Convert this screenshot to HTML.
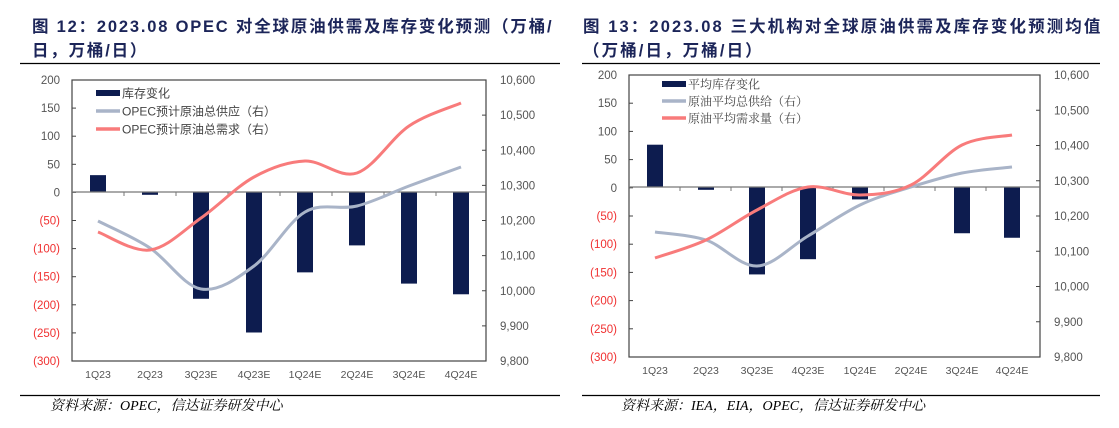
<!DOCTYPE html>
<html><head><meta charset="utf-8"><style>
body{margin:0;width:1119px;height:428px;background:#fff;overflow:hidden;font-family:"Liberation Sans","Noto Sans CJK SC",sans-serif}
svg{position:absolute;left:0;top:0}
</style></head><body>
<svg id="s" width="1119" height="428" xmlns="http://www.w3.org/2000/svg">
<g font-family="Liberation Sans, Noto Sans CJK SC, sans-serif" font-weight="bold" font-size="16.5" fill="#1c2559">
<text x="32" y="32" letter-spacing="1.8">图 12：2023.08 OPEC 对全球原油供需及库存变化预测（万桶/</text>
<text x="32" y="56" letter-spacing="1.8">日，万桶/日）</text>
<text x="583" y="32" letter-spacing="2.1">图 13：2023.08 三大机构对全球原油供需及库存变化预测均值</text>
<text x="583" y="56" letter-spacing="2.1">（万桶/日，万桶/日）</text>
</g>
<line x1="20" y1="63.5" x2="560" y2="63.5" stroke="#000" stroke-width="1.2"/>
<line x1="582" y1="63.5" x2="1100" y2="63.5" stroke="#000" stroke-width="1.2"/>
<line x1="20" y1="395.5" x2="560" y2="395.5" stroke="#000" stroke-width="1.2"/>
<line x1="582" y1="395.5" x2="1100" y2="395.5" stroke="#000" stroke-width="1.2"/>
<g font-family="Liberation Serif, Noto Serif CJK SC, serif" font-style="italic" font-size="14" fill="#000">
<text x="50" y="410">资料来源：OPEC，信达证券研发中心</text>
<text x="621" y="410">资料来源：IEA，EIA，OPEC，信达证券研发中心</text>
</g>
</svg>
<script>
const s=document.getElementById('s');const NS='http://www.w3.org/2000/svg';
function el(t,a,txt){const e=document.createElementNS(NS,t);for(const k in a)e.setAttribute(k,a[k]);if(txt!==undefined)e.textContent=txt;s.appendChild(e);return e;}
function path(p){let d='M'+p[0][0]+','+p[0][1];for(let i=0;i<p.length-1;i++){const p0=p[i-1]||p[i],p1=p[i],p2=p[i+1],p3=p[i+2]||p2;const t=6;d+=' C'+(p1[0]+(p2[0]-p0[0])/t)+','+(p1[1]+(p2[1]-p0[1])/t)+' '+(p2[0]-(p3[0]-p1[0])/t)+','+(p2[1]-(p3[1]-p1[1])/t)+' '+p2[0]+','+p2[1];}return d;}
function chart(c){
 const {L,R,T,B,zero,xs,bars,gray,red,cats,leg,lx,ly,ls}=c;
 const u=(B-T)/500;
 el('rect',{x:L,y:T,width:R-L,height:B-T,fill:'none',stroke:'#444','stroke-width':1.2});
 for(let v=200;v>=-300;v-=50){const y=T+(200-v)*u;el('line',{x1:L,y1:y,x2:L+4,y2:y,stroke:'#444'});
  el('text',{x:L-12,y:y+4,'text-anchor':'end','font-size':11.5,fill:v<0?'#f03030':'#555'},v<0?'('+(-v)+')':String(v));}
 const ru=(B-T)/800;
 for(let v=10600;v>=9800;v-=100){const y=T+(10600-v)*ru;el('line',{x1:R-4,y1:y,x2:R,y2:y,stroke:'#444'});
  el('text',{x:R+14,y:y+4,'font-size':11.5,fill:'#555'},v.toLocaleString('en-US'));}
 bars.forEach((b,i)=>{const y=zero-b*u;el('rect',{x:xs[i]-8,y:Math.min(y,zero),width:16,height:Math.abs(zero-y),fill:'#0d1c4f'});});
 el('line',{x1:L,y1:zero,x2:R,y2:zero,stroke:'#777','stroke-width':1.2});
 for(let i=0;i<=8;i++){const x=xs[0]-26+i*(xs[1]-xs[0]);if(i>0&&i<8)el('line',{x1:x,y1:zero,x2:x,y2:zero+4,stroke:'#777'});}
 el('path',{d:path(gray.map((y,i)=>[xs[i],y])),fill:'none',stroke:'#a9b4c8','stroke-width':3});
 el('path',{d:path(red.map((y,i)=>[xs[i],y])),fill:'none',stroke:'#f87b7b','stroke-width':3});
 cats.forEach((t,i)=>el('text',{x:xs[i],y:B+17,'text-anchor':'middle','font-size':10.5,fill:'#555'},t));
 const cols=['#0d1c4f','#a9b4c8','#f87b7b'];
 leg.forEach((t,i)=>{const y=ly+i*ls;el('line',{x1:lx,y1:y,x2:lx+24,y2:y,stroke:cols[i],'stroke-width':i==0?6:3.5});
  el('text',{x:lx+26,y:y+4.5,'font-size':12,fill:'#444','font-family':c.ff},t);});
}
const cats=['1Q23','2Q23','3Q23E','4Q23E','1Q24E','2Q24E','3Q24E','4Q24E'];
chart({L:72,R:486,T:80,B:361,zero:192,xs:[98,150,201,254,305,357,409,461],bars:[30,-5,-190,-250,-143,-95,-163,-182],
 gray:[221,248,289,266,212,206,186,167],red:[232,250,218,177,161,173,126,103],cats,
 leg:['库存变化','OPEC预计原油总供应（右）','OPEC预计原油总需求（右）'],lx:96,ly:93,ls:18,ff:'Liberation Sans, Noto Sans CJK SC, sans-serif'});
chart({L:629,R:1040,T:75,B:357,zero:187,xs:[655,706,757,808,860,911,962,1012],bars:[75,-5,-155,-128,-22,0,-82,-90],
 gray:[232,240,266,236,205,187,173,167],red:[258,240,210,187,195,185,145,135],cats,
 leg:['平均库存变化','原油平均总供给（右）','原油平均需求量（右）'],lx:662,ly:84,ls:17,ff:'Liberation Serif, Noto Serif CJK SC, serif'});
</script>
</body></html>
